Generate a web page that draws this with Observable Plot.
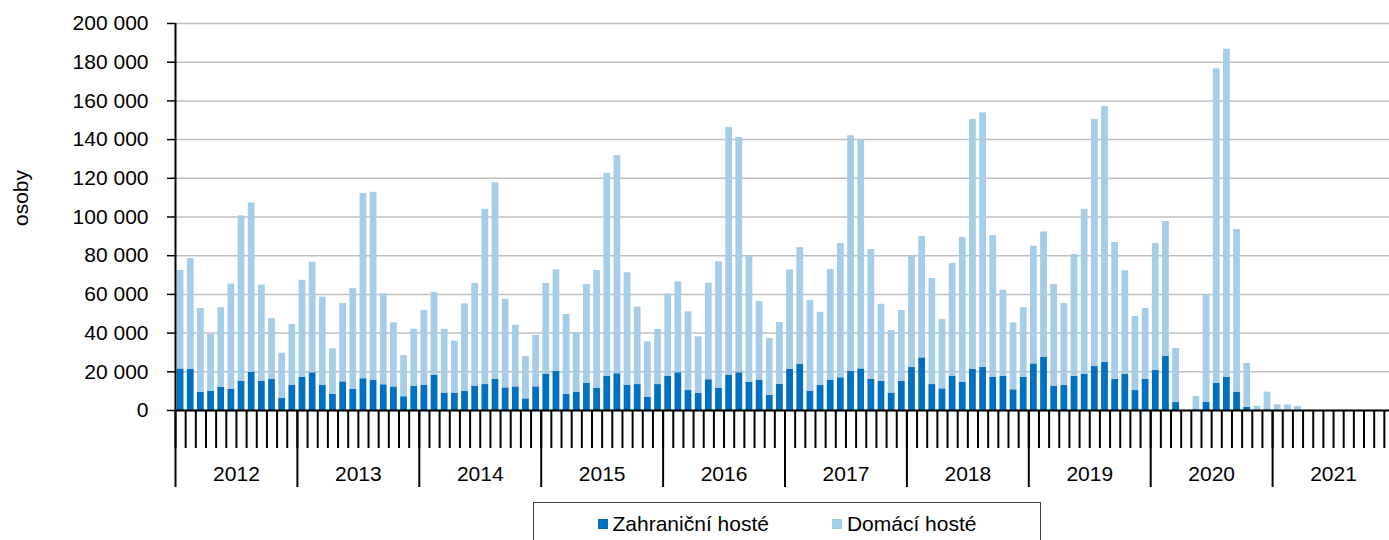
<!DOCTYPE html>
<html><head><meta charset="utf-8">
<script src="https://cdn.jsdelivr.net/npm/d3@7"></script>
<script src="https://cdn.jsdelivr.net/npm/@observablehq/plot@0.6"></script>
<style>
body{margin:0;background:#fff;font-family:"Liberation Sans",Arial,sans-serif;color:#000;}
#wrap{position:relative;width:1389px;height:540px;overflow:hidden;}
#chart{position:absolute;left:0;top:0;}
#ylabel{position:absolute;left:21px;top:198px;transform:translate(-50%,-50%) rotate(-90deg);font-size:21px;white-space:nowrap;}
#legend{position:absolute;left:533px;top:502px;width:508px;height:60px;border:1px solid #404040;box-sizing:border-box;display:flex;justify-content:center;align-items:flex-start;padding-top:10px;gap:63px;font-size:21px;line-height:21px;}
.item{display:flex;align-items:center;}
.sw{width:10px;height:10px;margin-right:5px;}
</style>
</head><body>
<div id="wrap">
  <div id="chart"></div>
  <div id="ylabel">osoby</div>
  <div id="legend"></div>
</div>
<script>
const years = ["2012","2013","2014","2015","2016","2017","2018","2019","2020","2021"];
const seriesNames = ["Zahraniční hosté", "Domácí hosté"];
const seriesColors = ["#0070c0", "#a6cde8"];
const yTicks = [0, 20000, 40000, 60000, 80000, 100000, 120000, 140000, 160000, 180000, 200000];

// Zahraniční hosté (foreign guests), monthly Jan 2012 – Dec 2021
const foreign = [
  21500, 21200, 9500, 10000, 11900, 10900, 15000, 19800, 15000, 16000, 6200, 13100,
  17100, 19500, 12900, 8300, 14800, 10900, 16400, 15700, 13300, 12200, 7100, 12400,
  13100, 18100, 9000, 9000, 10000, 12600, 13400, 16200, 11700, 12200, 6000, 12200,
  18800, 20200, 8300, 9500, 14100, 11500, 17600, 19000, 13100, 13400, 6900, 13400,
  17600, 19500, 10300, 8800, 15900, 11500, 18300, 19500, 14600, 15700, 7800, 13600,
  21200, 23800, 10000, 12900, 15500, 16900, 20200, 21500, 16200, 15000, 9000, 15000,
  22200, 27200, 13400, 11200, 17700, 14500, 21200, 22200, 17100, 17600, 10700, 17100,
  24100, 27400, 12600, 12900, 17700, 18600, 22700, 24800, 16000, 18600, 10300, 16200,
  20700, 27900, 4100, 0, 400, 4300, 14100, 17100, 9500, 1600, 200, 400,
  200, 200, 200, null, null, null, null, null, null, null, null, null
];
// Domácí hosté (domestic guests)
const domestic = [
  50900, 57400, 43200, 29400, 41200, 54400, 85600, 87500, 49800, 31500, 23400, 31300,
  50200, 57200, 45700, 23600, 40500, 52100, 95700, 97100, 47000, 33100, 21300, 29600,
  38600, 42900, 32900, 26800, 45100, 53000, 90600, 101500, 45800, 31900, 21900, 26600,
  46800, 52500, 41300, 30800, 51000, 60900, 105000, 112800, 58100, 40000, 28600, 28500,
  42500, 47000, 40700, 29300, 49900, 65300, 128000, 121600, 65100, 40600, 29400, 31900,
  51500, 60400, 46800, 37900, 57400, 69400, 121800, 118400, 67000, 39900, 32300, 36700,
  57700, 62700, 54800, 35800, 58300, 74900, 129200, 131600, 73300, 44600, 34600, 36000,
  60800, 64900, 52500, 42400, 62900, 85400, 127700, 132300, 70800, 53600, 38300, 36500,
  65600, 69800, 27900, 0, 6800, 55500, 162500, 169600, 84000, 22700, 2000, 9100,
  2700, 2700, 1900, null, null, null, null, null, null, null, null, null
];

const nMonths = years.length * 12;
const rows = [];
foreign.forEach((v, i) => { if (v != null) rows.push({i, series: seriesNames[0], value: v}); });
domestic.forEach((v, i) => { if (v != null) rows.push({i, series: seriesNames[1], value: v}); });

const monthTicks = d3.range(0, nMonths + 1);
const yearTicks = d3.range(0, nMonths + 1, 12);
const yearCenters = years.map((y, k) => k * 12 + 6);

const fmt = d3.formatLocale({decimal: ",", thousands: "\u00a0", grouping: [3], currency: ["", ""]}).format(",");

const chart = Plot.plot({
  width: 1389, height: 500,
  marginLeft: 175, marginRight: -5, marginTop: 23, marginBottom: 90,
  style: {fontFamily: "Liberation Sans, Arial, sans-serif", fontSize: "21px", color: "#000", background: "transparent"},
  x: {type: "linear", domain: [0, nMonths]},
  y: {domain: [0, 200000]},
  color: {domain: seriesNames, range: seriesColors},
  marks: [
    Plot.gridY(yTicks, {stroke: "#c0c0c0", strokeOpacity: 1, strokeWidth: 1.5}),
    Plot.rectY(rows, Plot.stackY({x1: "i", x2: d => d.i + 1, y: "value", fill: "series", insetLeft: 1.7, insetRight: 1.7})),
    Plot.ruleX([0], {stroke: "#000", strokeWidth: 2}),
    Plot.ruleY([0], {stroke: "#000", strokeWidth: 2}),
    Plot.axisY({ticks: yTicks, tickSize: 8, tickPadding: 19, tickFormat: fmt, label: null, fontSize: 21, strokeWidth: 1.5}),
    Plot.axisX({ticks: monthTicks, tickSize: 38, tickFormat: () => "", label: null, strokeWidth: 2}),
    Plot.axisX({ticks: yearTicks, tickSize: 77, tickFormat: () => "", label: null, strokeWidth: 2}),
    Plot.axisX({ticks: yearCenters, tickSize: 0, tickPadding: 56, tickFormat: d => years[(d - 6) / 12], label: null, fontSize: 21})
  ]
});
document.getElementById("chart").appendChild(chart);

const legend = document.getElementById("legend");
seriesNames.forEach((name, k) => {
  const item = document.createElement("div");
  item.className = "item";
  const sw = document.createElement("span");
  sw.className = "sw";
  sw.style.background = seriesColors[k];
  const t = document.createElement("span");
  t.textContent = name;
  item.appendChild(sw); item.appendChild(t);
  legend.appendChild(item);
});
</script>
</body></html>
